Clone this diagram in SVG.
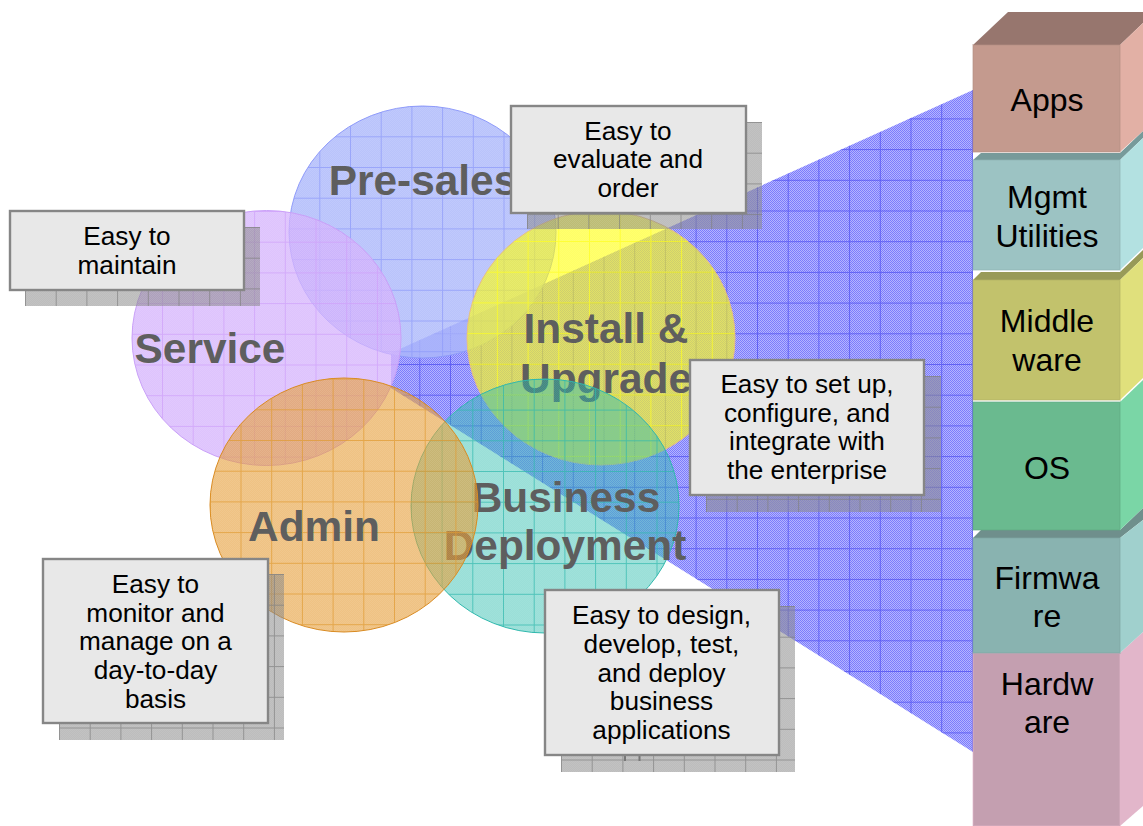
<svg xmlns="http://www.w3.org/2000/svg" width="1143" height="826" viewBox="0 0 1143 826">
<style>
.lb{font:bold 42.4px "Liberation Sans",Arial,sans-serif;fill:#5e5e5e;text-anchor:middle}
.ct{font:26.2px "Liberation Sans",Arial,sans-serif;fill:#000;text-anchor:middle}
.st{font:32px "Liberation Sans",Arial,sans-serif;fill:#000;text-anchor:middle}
.box{fill:#e8e8e8;stroke:#868686;stroke-width:2.4}
.front{stroke-width:2;stroke-opacity:.35}
.gl{fill:none;stroke-opacity:.7}
</style>
<defs>
<pattern id="cBeam" width="2" height="2" patternUnits="userSpaceOnUse"><rect width="2" height="2" fill="#b4b4ff"/><rect width="1" height="1" fill="#7c7cfc"/><rect x="1" y="1" width="1" height="1" fill="#7c7cfc"/></pattern>
<pattern id="cPre" width="2" height="2" patternUnits="userSpaceOnUse"><rect width="2" height="2" fill="#a8b4fa" fill-opacity=".8"/><rect width="1" height="1" fill="#fff" fill-opacity=".1"/><rect x="1" y="1" width="1" height="1" fill="#fff" fill-opacity=".1"/></pattern>
<pattern id="cSvc" width="2" height="2" patternUnits="userSpaceOnUse"><rect width="2" height="2" fill="#d3aefc" fill-opacity=".75"/><rect width="1" height="1" fill="#fff" fill-opacity=".1"/><rect x="1" y="1" width="1" height="1" fill="#fff" fill-opacity=".1"/></pattern>
<pattern id="cIns" width="2" height="2" patternUnits="userSpaceOnUse"><rect width="2" height="2" fill="#ffff00" fill-opacity=".6"/><rect width="1" height="1" fill="#fff" fill-opacity=".06"/><rect x="1" y="1" width="1" height="1" fill="#fff" fill-opacity=".06"/></pattern>
<pattern id="cBiz" width="2" height="2" patternUnits="userSpaceOnUse"><rect width="2" height="2" fill="#23b9aa" fill-opacity=".46"/><rect width="1" height="1" fill="#fff" fill-opacity=".06"/><rect x="1" y="1" width="1" height="1" fill="#fff" fill-opacity=".06"/></pattern>
<pattern id="cAdm" width="2" height="2" patternUnits="userSpaceOnUse"><rect width="2" height="2" fill="#e49a30" fill-opacity=".6"/><rect width="1" height="1" fill="#fff" fill-opacity=".08"/><rect x="1" y="1" width="1" height="1" fill="#fff" fill-opacity=".08"/></pattern>
<pattern id="cSh" width="2" height="2" patternUnits="userSpaceOnUse"><rect width="2" height="2" fill="#808080" fill-opacity=".52"/><rect width="1" height="1" fill="#fff" fill-opacity=".08"/><rect x="1" y="1" width="1" height="1" fill="#fff" fill-opacity=".08"/></pattern>
<pattern id="gBeam" x="419.3" y="364" width="30.7" height="30.7" patternUnits="userSpaceOnUse"><path class="gl" d="M.5 0V30.7M0 .5H30.7" stroke="#4a4af0"/></pattern>
<pattern id="gPre" x="319.3" y="136.3" width="30.7" height="30.7" patternUnits="userSpaceOnUse"><path class="gl" d="M.5 0V30.7M0 .5H30.7" stroke="#8c99fa"/></pattern>
<pattern id="gSvc" x="162" y="241.7" width="30.7" height="30.7" patternUnits="userSpaceOnUse"><path class="gl" d="M.5 0V30.7M0 .5H30.7" stroke="#cfa0fa"/></pattern>
<pattern id="gIns" x="558.3" y="241" width="30.7" height="30.7" patternUnits="userSpaceOnUse"><path class="gl" d="M.5 0V30.7M0 .5H30.7" stroke="#ffff20"/></pattern>
<pattern id="gBiz" x="472.3" y="501.7" width="30.7" height="30.7" patternUnits="userSpaceOnUse"><path class="gl" d="M.5 0V30.7M0 .5H30.7" stroke="#2fb8ad"/></pattern>
<pattern id="gAdm" x="394" y="409.3" width="30.7" height="30.7" patternUnits="userSpaceOnUse"><path class="gl" d="M.5 0V30.7M0 .5H30.7" stroke="#e09a30"/></pattern>
<pattern id="gSh" width="30.7" height="30.7" patternUnits="userSpaceOnUse"><path class="gl" d="M.5 0V30.7M0 .5H30.7" stroke="#808080"/></pattern>
<pattern id="gSh1" href="#gSh" x="25" y="227"/>
<pattern id="gSh2" href="#gSh" x="527" y="122"/>
<pattern id="gSh3" href="#gSh" x="706" y="376"/>
<pattern id="gSh4" href="#gSh" x="59" y="574"/>
<pattern id="gSh5" href="#gSh" x="561" y="606"/>
</defs>
<g id="beam">
<polygon points="391,353 973,90 973,752 391,388" fill="url(#cBeam)"/>
<polygon points="391,353 973,90 973,752 391,388" fill="url(#gBeam)"/>
</g>
<g id="pre-sales">
<ellipse cx="422.5" cy="232" rx="133.5" ry="126" fill="url(#cPre)" stroke="#8f9bfa"/>
<ellipse cx="422.5" cy="232" rx="133.5" ry="126" fill="url(#gPre)"/>
<text class="lb" x="423" y="195">Pre-sales</text>
</g>
<g id="service">
<ellipse cx="266.5" cy="338" rx="134.5" ry="127.5" fill="url(#cSvc)" stroke="#c9a0f8"/>
<ellipse cx="266.5" cy="338" rx="134.5" ry="127.5" fill="url(#gSvc)"/>
<text class="lb" x="210" y="363">Service</text>
</g>
<g id="install">
<ellipse cx="601" cy="338" rx="134" ry="127" fill="url(#cIns)" stroke="#e8c080"/>
<ellipse cx="601" cy="338" rx="134" ry="127" fill="url(#gIns)"/>
<text class="lb" x="606" y="343">Install &amp;</text>
<text class="lb" x="606" y="393">Upgrade</text>
</g>
<g id="business">
<ellipse cx="545" cy="506" rx="134" ry="127" fill="url(#cBiz)" stroke="#2fb8ad"/>
<ellipse cx="545" cy="506" rx="134" ry="127" fill="url(#gBiz)"/>
<text class="lb" x="566" y="512">Business</text>
<text class="lb" x="565" y="560">Deployment</text>
</g>
<g id="admin">
<ellipse cx="344" cy="505" rx="134" ry="127" fill="url(#cAdm)" stroke="#d98a20"/>
<ellipse cx="344" cy="505" rx="134" ry="127" fill="url(#gAdm)"/>
<text class="lb" x="314" y="541">Admin</text>
</g>
<g id="connectors"/>
<g id="note-maintain">
<rect x="25" y="227" width="235" height="79" fill="url(#cSh)"/><rect x="25" y="227" width="235" height="79" fill="url(#gSh1)"/>
<rect class="box" x="10" y="211" width="234" height="79"/>
<text class="ct" x="127" y="245">Easy to</text><text class="ct" x="127" y="274">maintain</text>
</g>
<g id="note-evaluate">
<rect x="527" y="122" width="235" height="107" fill="url(#cSh)"/><rect x="527" y="122" width="235" height="107" fill="url(#gSh2)"/>
<rect class="box" x="511" y="106" width="235" height="107"/>
<text class="ct" x="628" y="140">Easy to</text><text class="ct" x="628" y="168">evaluate and</text><text class="ct" x="628" y="197">order</text>
</g>
<g id="note-setup">
<rect x="706" y="376" width="235" height="136" fill="url(#cSh)"/><rect x="706" y="376" width="235" height="136" fill="url(#gSh3)"/>
<rect class="box" x="690" y="360" width="234" height="135"/>
<text class="ct" x="807" y="393">Easy to set up,</text><text class="ct" x="807" y="422">configure, and</text><text class="ct" x="807" y="450">integrate with</text><text class="ct" x="807" y="479">the enterprise</text>
</g>
<g id="note-monitor">
<rect x="59" y="574" width="225" height="166" fill="url(#cSh)"/><rect x="59" y="574" width="225" height="166" fill="url(#gSh4)"/>
<rect class="box" x="43" y="559" width="225" height="164"/>
<text class="ct" x="155.5" y="593">Easy to</text><text class="ct" x="155.5" y="622">monitor and</text><text class="ct" x="155.5" y="650">manage on a</text><text class="ct" x="155.5" y="679">day-to-day</text><text class="ct" x="155.5" y="708">basis</text>
</g>
<g id="note-design">
<rect x="561" y="606" width="234" height="166" fill="url(#cSh)"/><rect x="561" y="606" width="234" height="166" fill="url(#gSh5)"/>
<path d="M625 755v6M639.5 755v6" stroke="#777" stroke-width="2"/>
<rect class="box" x="545" y="590" width="234" height="165"/>
<text class="ct" x="661.5" y="623.5">Easy to design,</text><text class="ct" x="661.5" y="652.5">develop, test,</text><text class="ct" x="661.5" y="681.5">and deploy</text><text class="ct" x="661.5" y="710">business</text><text class="ct" x="661.5" y="738.5">applications</text>
</g>
<g id="layer-hardware">
<polygon points="1120,653 1143,632 1143,806 1120,826" fill="#e2b6ca"/>
<rect class="front" x="973" y="653" width="147" height="173" fill="#c49fb0" stroke="#e2b6ca"/>
<text class="st" x="1047" y="695">Hardw</text><text class="st" x="1047" y="733">are</text>
</g>
<g id="layer-firmware">
<polygon points="973,538 981,530 1120,530 1143,508 1143,520 1120,538" fill="#6f8f8c"/>
<polygon points="1120,538 1143,520 1143,632 1120,653" fill="#a0d0cd"/>
<rect class="front" x="973" y="538" width="147" height="115" fill="#89b3b0" stroke="#7fa5a3"/>
<text class="st" x="1047" y="588.500">Firmwa</text><text class="st" x="1047" y="627">re</text>
</g>
<g id="layer-os">
<polygon points="1120,402 1143,380 1143,508 1120,530" fill="#7ad6a6"/>
<rect class="front" x="973" y="402" width="147" height="128" fill="#6aba8f" stroke="#5fa982"/>
<text class="st" x="1047" y="479">OS</text>
</g>
<g id="layer-middleware">
<polygon points="973,280 981,272 1120,272 1143,250 1143,258 1120,280" fill="#989a58"/>
<polygon points="1120,280 1143,258 1143,378 1120,400" fill="#e0e07c"/>
<rect class="front" x="973" y="280" width="147" height="120" fill="#c2c26c" stroke="#b2b264"/>
<text class="st" x="1047" y="332">Middle</text><text class="st" x="1047" y="371">ware</text>
</g>
<g id="layer-mgmt">
<polygon points="973,160 981,153 1120,153 1143,131 1143,138 1120,160" fill="#779a9a"/>
<polygon points="1120,160 1143,138 1143,248 1120,270" fill="#b3e1e1"/>
<rect class="front" x="973" y="160" width="147" height="110" fill="#9cc3c3" stroke="#8fb2b2"/>
<text class="st" x="1047" y="207.500">Mgmt</text><text class="st" x="1047" y="246.500">Utilities</text>
</g>
<g id="layer-apps">
<polygon points="973,45 1008,12 1143,12 1143,23 1120,45" fill="#97766e"/>
<polygon points="1120,45 1143,23 1143,131 1120,152" fill="#e2b0a5"/>
<rect class="front" x="973" y="45" width="147" height="107" fill="#c49a8e" stroke="#b58f85"/>
<text class="st" x="1047" y="110.500">Apps</text>
</g>
</svg>
